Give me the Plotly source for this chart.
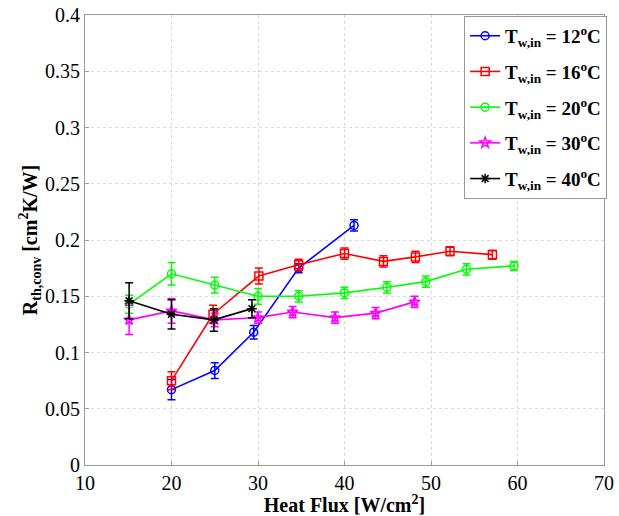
import plotly.graph_objects as go

# Data
x12 = [20, 25, 29.5, 34.7, 41.1]
y12 = [0.067, 0.084, 0.118, 0.175, 0.213]
e12 = [0.009, 0.007, 0.006, 0.004, 0.005]

x16 = [20, 24.8, 30.1, 34.7, 40.0, 44.5, 48.2, 52.2, 57.1]
y16 = [0.075, 0.134, 0.168, 0.178, 0.188, 0.181, 0.185, 0.190, 0.187]
e16 = [0.008, 0.008, 0.007, 0.005, 0.005, 0.005, 0.005, 0.004, 0.004]

x20 = [15.1, 20, 25, 30, 34.7, 40, 44.9, 49.4, 54.1, 59.6]
y20 = [0.143, 0.170, 0.160, 0.150, 0.150, 0.153, 0.158, 0.163, 0.174, 0.177]
e20 = [0.008, 0.010, 0.007, 0.007, 0.005, 0.005, 0.005, 0.005, 0.005, 0.004]

x30 = [15.1, 20, 25, 30, 34.0, 38.9, 43.6, 48.1]
y30 = [0.129, 0.137, 0.129, 0.131, 0.136, 0.131, 0.135, 0.145]
e30 = [0.013, 0.011, 0.006, 0.005, 0.005, 0.005, 0.005, 0.005]

x40 = [15.1, 20, 24.9, 29.3]
y40 = [0.146, 0.134, 0.129, 0.139]
e40 = [0.016, 0.013, 0.010, 0.008]

labels = ["12", "16", "20", "30", "40"]
xticks = [10, 20, 30, 40, 50, 60, 70]
yticks = [0, 0.05, 0.1, 0.15, 0.2, 0.25, 0.3, 0.35, 0.4]
yticktext = ["0", "0.05", "0.1", "0.15", "0.2", "0.25", "0.3", "0.35", "0.4"]

series = [
    (x12, y12, e12, "#0000ff", "circle-open"),
    (x16, y16, e16, "#ff0000", "square-open"),
    (x20, y20, e20, "#00ff00", "circle-open"),
    (x30, y30, e30, "#ff00ff", "star-open"),
    (x40, y40, e40, "#000000", "asterisk-open"),
]

font_family = "Liberation Serif"

fig = go.Figure()
for i, (lab, (xs, ys, es, col, sym)) in enumerate(zip(labels, series)):
    fig.add_trace(go.Scatter(
        x=xs, y=ys, mode="lines+markers",
        name=f"<b>T<sub>w,in</sub> = {lab}<sup>o</sup>C</b>",
        legendgroup=f"g{i}",
        line=dict(color=col, width=1.6),
        marker=dict(symbol=sym, size=8, color=col, line=dict(color=col, width=1.5)),
        error_y=dict(type="data", array=es, visible=True, color=col, thickness=1.5, width=4),
    ))

fig.update_layout(
    width=619, height=516,
    margin=dict(l=85, r=15, t=15, b=51, autoexpand=False),
    paper_bgcolor="white", plot_bgcolor="white",
    font=dict(family=font_family, size=20, color="black"),
    showlegend=True,
    legend=dict(
        x=1.006, y=0.998, xanchor="right", yanchor="top",
        bgcolor="white", bordercolor="#999999", borderwidth=1,
        font=dict(family=font_family, size=19, color="black"),
        itemwidth=30, tracegroupgap=8,
    ),
    xaxis=dict(
        range=[10, 70], tickmode="array", tickvals=xticks,
        showgrid=True, gridcolor="#d9d9d9", griddash="dot", gridwidth=1,
        showline=True, linecolor="#999999", linewidth=1, mirror=True,
        ticks="inside", ticklen=4, tickcolor="#999999",
        zeroline=False, automargin=False,
        title=dict(text="<b>Heat Flux [W/cm<sup>2</sup>]</b>", font=dict(size=20), standoff=2),
    ),
    yaxis=dict(
        range=[0, 0.4], tickmode="array", tickvals=yticks, ticktext=yticktext,
        showgrid=True, gridcolor="#d9d9d9", griddash="dot", gridwidth=1,
        showline=True, linecolor="#999999", linewidth=1, mirror=True,
        ticks="inside", ticklen=4, tickcolor="#999999",
        zeroline=False, automargin=False,
        title=dict(text="<b>R<sub>th,conv</sub> [cm<sup>2</sup>K/W]</b>", font=dict(size=20), standoff=2),
    ),
)

fig.write_html("out.html")
